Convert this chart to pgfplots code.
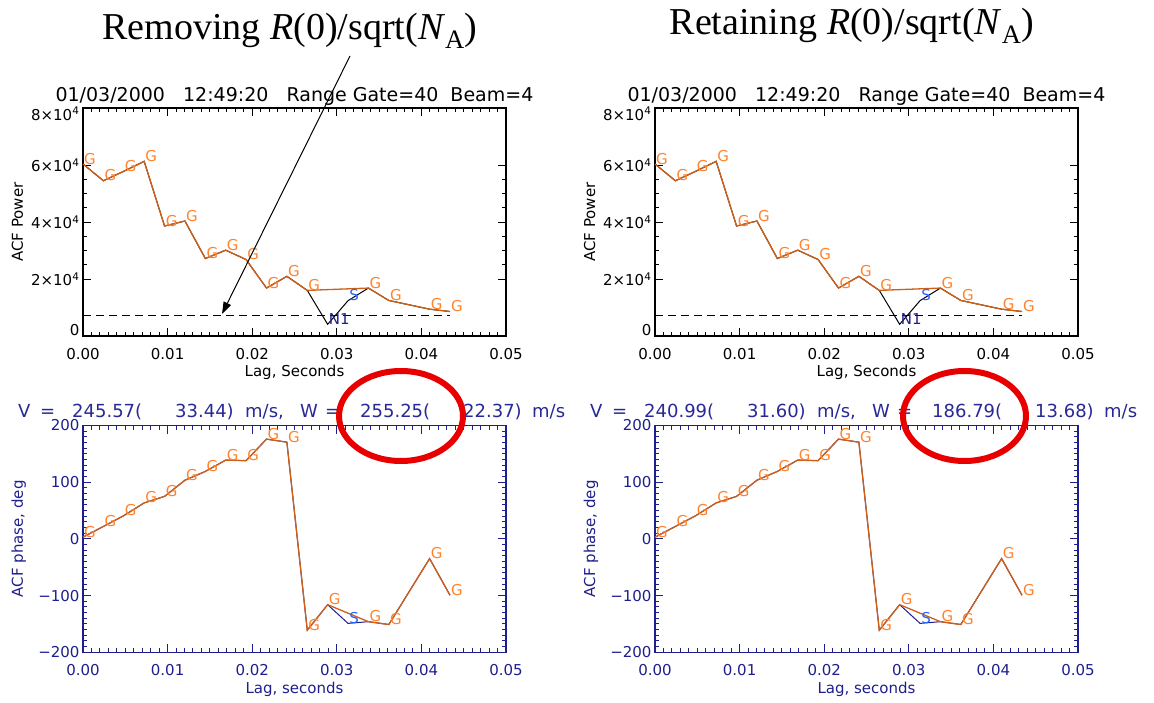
\documentclass[border=0pt]{standalone}
\usepackage{pgfplots}
\pgfplotsset{compat=1.18}
\usepackage{pgfplotstable}
\usepackage{fontspec}
\setmainfont{DejaVu Sans}
\newfontfamily\tnr{Liberation Serif}
\usetikzlibrary{arrows.meta}
\definecolor{lineor}{RGB}{205,95,25}
\definecolor{gor}{RGB}{255,130,45}
\definecolor{sblue}{RGB}{40,100,255}
\definecolor{navy}{RGB}{30,30,140}
\definecolor{txtblue}{RGB}{40,40,150}
\definecolor{ellred}{RGB}{232,0,0}

% lag [s], ACF power -- all lags
\pgfplotstableread{
x y
0       60350
0.00241 54470
0.00482 57800
0.00723 61290
0.00964 38590
0.01205 40350
0.01446 27180
0.01687 30120
0.01928 26820
0.02169 16820
0.02410 20940
0.02651 16000
0.02892 4100
0.03133 12400
0.03374 16820
0.03615 12470
0.04097 9410
0.04338 8590
}\powall
% good lags
\pgfplotstableread{
x y
0       60350
0.00241 54470
0.00482 57800
0.00723 61290
0.00964 38590
0.01205 40350
0.01446 27180
0.01687 30120
0.01928 26820
0.02169 16820
0.02410 20940
0.02651 16000
0.03374 16820
0.03615 12470
0.04097 9410
0.04338 8590
}\powG
\pgfplotstableread{
x y
0.03133 12400
}\powS
\pgfplotstableread{
x y
0.02892 4100
}\powN
\pgfplotstableread{
x y
0       7060
0.04338 7060
}\noise
% lag [s], ACF phase [deg] -- all lags
\pgfplotstableread{
x y
0       3
0.00241 22
0.00482 41
0.00723 63.5
0.00964 75
0.01205 103.5
0.01446 119
0.01687 139
0.01928 138
0.02169 176
0.02410 170.6
0.02651 -161
0.02892 -116
0.03133 -149
0.03374 -146
0.03615 -151
0.04097 -34.7
0.04338 -99.4
}\phall
\pgfplotstableread{
x y
0       3
0.00241 22
0.00482 41
0.00723 63.5
0.00964 75
0.01205 103.5
0.01446 119
0.01687 139
0.01928 138
0.02169 176
0.02410 170.6
0.02651 -161
0.02892 -116
0.03374 -146
0.03615 -151
0.04097 -34.7
0.04338 -99.4
}\phG
\pgfplotstableread{
x y
0.03133 -149
}\phS

% axes run in ms (x) and in thousands (power y); tick labels show the original units
\pgfplotsset{
  acfbase/.style={
    scale only axis, width=423pt,
    xmin=0, xmax=50,
    xtick={0,10,20,30,40,50},
    xticklabels={0.00,0.01,0.02,0.03,0.04,0.05},
    minor x tick num=9,
    tick align=inside,
    major tick length=8pt, minor tick length=4pt,
    scaled x ticks=false, scaled y ticks=false,
    /pgf/number format/assume math mode=true,
    ticklabel style={font=\fontsize{15}{18}\selectfont},
    xticklabel style={yshift=-9pt},
    every axis x label/.style={at={([yshift=-41pt]axis description cs:0.5,0)}, anchor=base,
      font=\fontsize{15}{18}\selectfont},
    every axis y label/.style={at={([xshift=-60pt]axis description cs:0,0.5)}, rotate=90, anchor=base,
      font=\fontsize{15}{18}\selectfont},
    every axis title/.style={at={([yshift=7pt]axis description cs:0.5,1)}, anchor=base, inner sep=0pt,
      font=\fontsize{19}{22}\selectfont},
    clip=false,
  },
  powstyle/.style={
    acfbase, height=228pt,
    ymin=0, ymax=80,
    ytick={20,40,60},
    yticklabels={2\texttimes10\textsuperscript{4},4\texttimes10\textsuperscript{4},6\texttimes10\textsuperscript{4}},
    extra y ticks={0,80},
    extra y tick labels={0,\raisebox{-12pt}{8\texttimes10\textsuperscript{4}}},
    extra y tick style={yticklabel style={anchor=base east}},
    minor y tick num=3,
    axis line style={line width=1.1pt, draw=black},
    major tick style={draw=black, line width=1pt},
    minor tick style={draw=black, line width=1pt},
    xlabel={Lag, Seconds}, ylabel={ACF Power},
    title={01/03/2000\ \ \ 12:49:20\ \ \ Range Gate=40\ \ Beam=4},
  },
  phstyle/.style={
    acfbase, height=226.8pt,
    ymin=-200, ymax=200,
    ytick={-200,-100,0,100,200},
    yticklabels={−200,−100,0,100,200},
    minor y tick num=9,
    axis line style={line width=1.1pt, draw=navy},
    major tick style={draw=navy, line width=1pt},
    minor tick style={draw=navy, line width=1pt},
    ticklabel style={text=navy},
    xlabel style={text=navy}, ylabel style={text=navy},
    xlabel={Lag, seconds}, ylabel={ACF phase, deg},
  },
  glab/.style={draw=none, mark=none, nodes near coords={#1},
    every node near coord/.append style={anchor=base west, inner sep=0pt, xshift=1pt,
      font=\fontsize{15}{18}\selectfont}},
}

\begin{document}
\begin{tikzpicture}
\path[use as bounding box] (0pt,0pt) rectangle (1154pt,702pt);

% ---- top-left
\begin{axis}[powstyle, at={(83pt,366pt)}, anchor=south west]
\addplot[black, dashed, dash pattern=on 8pt off 5pt, line width=0.9pt] table[x expr=\thisrow{x}*1000, y expr=\thisrow{y}/1000] {\noise};
\addplot[black, line width=1pt] table[x expr=\thisrow{x}*1000, y expr=\thisrow{y}/1000] {\powall};
\addplot[lineor, line width=1.3pt] table[x expr=\thisrow{x}*1000, y expr=\thisrow{y}/1000] {\powG};
\addplot[glab=G, every node near coord/.append style={text=gor}] table[x expr=\thisrow{x}*1000, y expr=\thisrow{y}/1000] {\powG};
\addplot[glab=S, every node near coord/.append style={text=sblue}] table[x expr=\thisrow{x}*1000, y expr=\thisrow{y}/1000] {\powS};
\addplot[glab=N1, every node near coord/.append style={text=navy}] table[x expr=\thisrow{x}*1000, y expr=\thisrow{y}/1000] {\powN};
\end{axis}

% ---- top-right
\begin{axis}[powstyle, at={(655pt,366pt)}, anchor=south west]
\addplot[black, dashed, dash pattern=on 8pt off 5pt, line width=0.9pt] table[x expr=\thisrow{x}*1000, y expr=\thisrow{y}/1000] {\noise};
\addplot[black, line width=1pt] table[x expr=\thisrow{x}*1000, y expr=\thisrow{y}/1000] {\powall};
\addplot[lineor, line width=1.3pt] table[x expr=\thisrow{x}*1000, y expr=\thisrow{y}/1000] {\powG};
\addplot[glab=G, every node near coord/.append style={text=gor}] table[x expr=\thisrow{x}*1000, y expr=\thisrow{y}/1000] {\powG};
\addplot[glab=S, every node near coord/.append style={text=sblue}] table[x expr=\thisrow{x}*1000, y expr=\thisrow{y}/1000] {\powS};
\addplot[glab=N1, every node near coord/.append style={text=navy}] table[x expr=\thisrow{x}*1000, y expr=\thisrow{y}/1000] {\powN};
\end{axis}

% ---- bottom-left
\begin{axis}[phstyle, at={(83pt,49.7pt)}, anchor=south west]
\addplot[navy, line width=1pt] table[x expr=\thisrow{x}*1000, y=y] {\phall};
\addplot[lineor, line width=1.3pt] table[x expr=\thisrow{x}*1000, y=y] {\phG};
\addplot[glab=G, every node near coord/.append style={text=gor}] table[x expr=\thisrow{x}*1000, y=y] {\phG};
\addplot[glab=S, every node near coord/.append style={text=sblue}] table[x expr=\thisrow{x}*1000, y=y] {\phS};
\end{axis}

% ---- bottom-right
\begin{axis}[phstyle, at={(655pt,49.7pt)}, anchor=south west]
\addplot[navy, line width=1pt] table[x expr=\thisrow{x}*1000, y=y] {\phall};
\addplot[lineor, line width=1.3pt] table[x expr=\thisrow{x}*1000, y=y] {\phG};
\addplot[glab=G, every node near coord/.append style={text=gor}] table[x expr=\thisrow{x}*1000, y=y] {\phG};
\addplot[glab=S, every node near coord/.append style={text=sblue}] table[x expr=\thisrow{x}*1000, y=y] {\phS};
\end{axis}

% ---- V / W lines
\begin{scope}[every node/.style={anchor=base west, inner sep=0pt, text=txtblue, font=\fontsize{18}{22}\selectfont}]
\node at (18pt,284pt) {V};
\node at (40pt,284pt) {=};
\node at (72pt,284pt) {245.57(};
\node at (175pt,284pt) {33.44)};
\node at (245pt,284pt) {m/s,};
\node at (300pt,284pt) {W};
\node at (325pt,284pt) {=};
\node at (360pt,284pt) {255.25(};
\node at (463pt,284pt) {22.37)};
\node at (532pt,284pt) {m/s};
\node at (590pt,284pt) {V};
\node at (612pt,284pt) {=};
\node at (644pt,284pt) {240.99(};
\node at (747pt,284pt) {31.60)};
\node at (817pt,284pt) {m/s,};
\node at (872pt,284pt) {W};
\node at (897pt,284pt) {=};
\node at (932pt,284pt) {186.79(};
\node at (1035pt,284pt) {13.68)};
\node at (1104pt,284pt) {m/s};
\end{scope}

% ---- headlines
\node[anchor=base, inner sep=0pt, font=\tnr\fontsize{38}{44}\selectfont] at (290pt,662pt)
  {Removing \textit{R}(0)/sqrt(\textit{N}\textsubscript{A})};
\node[anchor=base, inner sep=0pt, font=\tnr\fontsize{38}{44}\selectfont] at (852pt,667pt)
  {Retaining \textit{R}(0)/sqrt(\textit{N}\textsubscript{A})};

% ---- arrow
\draw[black, line width=1pt, -{Triangle[length=12pt,width=8pt]}] (350pt,646pt) -- (222pt,388pt);

% ---- red ellipses
\draw[ellred, line width=6pt] (401pt,286pt) ellipse [x radius=62pt, y radius=45pt];
\draw[ellred, line width=6pt] (964.5pt,286pt) ellipse [x radius=61.5pt, y radius=45pt];
\end{tikzpicture}
\end{document}
